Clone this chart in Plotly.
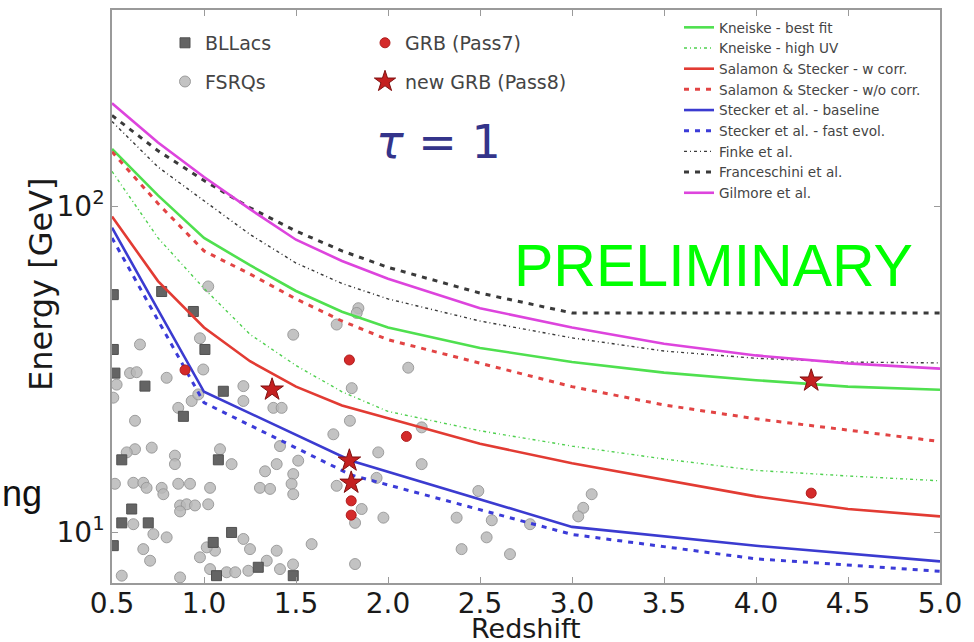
import plotly.graph_objects as go

# Optical-depth tau = 1 horizons for several EBL models
Z_GRID = [0.5, 0.75, 1.0, 1.25, 1.5, 1.75, 2.0, 2.5, 3.0, 3.5, 4.0, 4.5, 5.0]
KNEISKE_BEST = [150, 108, 80, 66, 55, 47.5, 42.5, 36.8, 33.3, 30.9, 29.3, 28.0, 27.4]
KNEISKE_UV = [128, 80, 56, 40.5, 32.5, 27.0, 23.5, 20.5, 18.4, 16.8, 15.5, 14.9, 14.4]
SALAMON_W = [93, 59, 42.5, 33.5, 28.0, 24.5, 22.4, 18.7, 16.3, 14.5, 12.9, 11.8, 11.2]
SALAMON_WO = [147, 102, 73, 62, 52, 44.5, 39, 33, 28, 24.6, 22.3, 20.6, 19.0]
FINKE = [182, 132, 104, 82, 67, 58, 52, 44.5, 39.5, 36.0, 34.2, 33.3, 33.1]
FRANCESCHINI = [190, 148, 120, 99, 84, 73, 65, 54.2, 47.1, 47.1, 47.1, 47.1, 47.1]
GILMORE = [207, 157, 123, 98, 79, 68, 60, 48.7, 42.5, 37.9, 34.9, 33.0, 31.8]

STECKER_Z = [0.5, 1.0, 1.8, 3.0, 4.0, 5.0]
STECKER_BASE = [86, 27, 16.6, 10.4, 9.1, 8.15]
STECKER_FAST = [80, 25, 15.0, 9.86, 8.3, 7.6]

# Highest-energy photons: blazars and GRBs
BLLAC_Z = [0.507, 0.770, 0.942, 0.507, 1.005, 0.516, 0.679, 1.105, 0.888, 0.553,
           1.078, 0.607, 0.553, 0.697, 1.150, 1.050, 0.507, 1.295, 1.485, 1.068]
BLLAC_E = [53.6, 54.8, 47.6, 36.4, 36.4, 30.8, 28.1, 27.1, 22.7, 16.7,
           16.7, 11.8, 10.7, 10.7, 10.0, 9.32, 9.11, 7.82, 7.37, 7.37]

FSRQ_Z = [1.023, 0.652, 0.978, 1.485, 1.721, 1.839, 1.830, 2.110, 1.803, 0.598,
          0.634, 0.797, 0.996, 1.214, 1.214, 1.377, 1.422, 0.933, 0.860, 0.969,
          0.625, 1.793, 1.703, 2.183, 1.413, 0.625, 0.716, 0.842, 0.842, 1.087,
          1.150, 1.512, 1.395, 1.332, 1.485, 1.947, 2.183, 0.516, 0.616, 0.670,
          0.688, 0.770, 0.779, 0.860, 0.924, 1.033, 1.304, 1.359, 1.476, 1.485,
          1.721, 1.857, 1.975, 2.373, 2.491, 2.564, 2.536, 2.400, 0.870, 0.906,
          0.951, 1.023, 0.870, 0.725, 0.797, 0.670, 0.707, 0.978, 1.060, 1.015,
          1.214, 1.250, 1.395, 1.585, 1.341, 1.123, 1.033, 1.241, 1.413, 1.821,
          0.553, 0.616, 1.821, 0.580, 0.525, 0.507, 1.938, 3.107, 3.061, 3.034,
          2.663, 2.772, 0.870, 1.170, 1.484]
FSRQ_E = [56.8, 37.7, 39.4, 40.4, 43.4, 48.7, 47.1, 32.0, 27.7, 30.8,
          31.0, 29.8, 31.6, 28.1, 25.3, 24.1, 24.1, 25.3, 24.1, 26.5,
          22.0, 22.0, 20.0, 21.0, 18.4, 18.0, 18.2, 17.2, 16.2, 18.0,
          16.2, 16.6, 16.2, 15.4, 15.1, 17.6, 16.2, 14.1, 14.2, 14.2,
          13.7, 13.7, 13.1, 14.1, 14.1, 13.7, 13.7, 13.6, 14.1, 13.1,
          13.9, 11.8, 11.1, 11.1, 13.4, 10.9, 9.66, 8.89, 12.1, 12.2,
          12.1, 12.2, 11.6, 9.88, 9.66, 8.89, 8.19, 8.39, 8.79, 9.0,
          9.55, 8.89, 8.79, 9.21, 8.19, 7.55, 7.72, 7.63, 7.72, 8.0,
          7.37, 10.6, 10.7, 17.6, 28.4, 25.9, 14.7, 13.1, 11.9, 11.2,
          8.58, 10.6, 7.28, 7.55, 7.98]

GRB7_Z = [0.897, 1.79, 2.10, 1.80, 1.80, 4.30]
GRB7_E = [31.5, 33.8, 19.7, 12.5, 11.3, 13.2]
GRB8_Z = [1.37, 1.79, 1.80, 4.30]
GRB8_E = [27.4, 16.6, 14.2, 29.2]

X_TICKS = [0.5, 1.0, 1.5, 2.0, 2.5, 3.0, 3.5, 4.0, 4.5, 5.0]
Y_TICKS = [10, 100]
Y_TICKTEXT = ["10<sup>1</sup>", "10<sup>2</sup>"]

FONT = "DejaVu Sans"
INK = "#1a1a1a"

# plot frame in pixels, used to place free-floating labels
PLOT_L, PLOT_R, PLOT_T, PLOT_B = 112, 940, 8, 583
def dom_x(px):
    return (px - PLOT_L) / (PLOT_R - PLOT_L)
def dom_y(py):
    return (PLOT_B - py) / (PLOT_B - PLOT_T)

fig = go.Figure()

# source scatter
fig.add_trace(go.Scatter(
    x=FSRQ_Z, y=FSRQ_E, mode="markers", name="FSRQs", legend="legend2",
    legendgroup="fsrq", legendrank=2,
    marker=dict(symbol="circle", size=11, color="rgba(185,185,185,0.85)",
                line=dict(color="rgba(150,150,150,0.9)", width=1))))
fig.add_trace(go.Scatter(
    x=BLLAC_Z, y=BLLAC_E, mode="markers", name="BLLacs", legend="legend2",
    legendgroup="bllac", legendrank=1,
    marker=dict(symbol="square", size=10, color="#646464",
                line=dict(color="#505050", width=1))))

# model curves
models = [
    ("Kneiske - best fit", Z_GRID, KNEISKE_BEST, "#4fe04f", "solid", 2.6),
    ("Kneiske - high UV", Z_GRID, KNEISKE_UV, "#4fd04f", "3px,3px,1px,3px", 1.4),
    ("Salamon & Stecker - w corr.", Z_GRID, SALAMON_W, "#e23b33", "solid", 2.6),
    ("Salamon & Stecker - w/o corr.", Z_GRID, SALAMON_WO, "#e24444", "5px,6px", 3),
    ("Stecker et al. - baseline", STECKER_Z, STECKER_BASE, "#3b3bd0", "solid", 2.6),
    ("Stecker et al. - fast evol.", STECKER_Z, STECKER_FAST, "#3b3bd8", "5px,6px", 3),
    ("Finke et al.", Z_GRID, FINKE, "#3a3a3a", "3px,3px,1px,3px", 1.4),
    ("Franceschini et al.", Z_GRID, FRANCESCHINI, "#3a3a3a", "5px,6px", 3),
    ("Gilmore et al.", Z_GRID, GILMORE, "#dd44dd", "solid", 2.6),
]
for i, (name, zz, ee, col, dash, w) in enumerate(models):
    fig.add_trace(go.Scatter(
        x=zz, y=ee, mode="lines", name=name, legend="legend",
        legendgroup=f"m{i}", line=dict(color=col, dash=dash, width=w)))

# GRBs
fig.add_trace(go.Scatter(
    x=GRB7_Z, y=GRB7_E, mode="markers", name="GRB (Pass7)", legend="legend3",
    legendgroup="grb7",
    marker=dict(symbol="circle", size=10, color="#d42a2a",
                line=dict(color="#b01c1c", width=1))))
fig.add_trace(go.Scatter(
    x=GRB8_Z, y=GRB8_E, mode="markers", name="new GRB (Pass8)", legend="legend3",
    legendgroup="grb8",
    marker=dict(symbol="star", size=17, color="#c42020",
                line=dict(color="#801010", width=1))))

axis_common = dict(showline=True, linecolor="#9a9a9a", linewidth=1.5, mirror="ticks",
                   ticks="inside", tickcolor="#9a9a9a", ticklen=6, showgrid=False,
                   zeroline=False, tickfont=dict(family=FONT, size=28, color=INK))

def label(text, px, py, size, color, family=FONT, angle=0, xanchor="center"):
    return dict(text=text, x=dom_x(px), y=dom_y(py), xref="x domain", yref="y domain",
                xanchor=xanchor, yanchor="middle", textangle=angle, showarrow=False,
                font=dict(family=family, size=size, color=color))

fig.update_layout(
    width=974, height=642,
    margin=dict(l=PLOT_L, r=974 - PLOT_R, t=PLOT_T, b=642 - PLOT_B),
    paper_bgcolor="white", plot_bgcolor="white",
    xaxis=dict(range=[0.5, 5.0], tickvals=X_TICKS, ticklabelstandoff=-5,
               ticktext=[f"{v:.1f}" for v in X_TICKS], **axis_common),
    yaxis=dict(type="log", range=[0.845, 2.602], tickvals=Y_TICKS, ticktext=Y_TICKTEXT,
               **axis_common),
    legend=dict(x=dom_x(679), y=dom_y(10), xanchor="left", yanchor="top",
                bgcolor="rgba(0,0,0,0)", font=dict(family=FONT, size=13.6, color="#444"),
                tracegroupgap=0, itemwidth=30),
    legend2=dict(x=dom_x(165), y=dom_y(22), xanchor="left", yanchor="top",
                 bgcolor="rgba(0,0,0,0)", font=dict(family=FONT, size=19, color="#444"),
                 tracegroupgap=11),
    legend3=dict(x=dom_x(365), y=dom_y(22), xanchor="left", yanchor="top",
                 bgcolor="rgba(0,0,0,0)", font=dict(family=FONT, size=19, color="#444"),
                 tracegroupgap=11),
    annotations=[
        label("Redshift", 526, 629, 27, INK),
        label("Energy [GeV]", 41, 283, 32, INK, angle=-90),
        label("<i>τ</i> = 1", 438, 140, 46, "#34348a"),
        label("PRELIMINARY", 713, 265, 59, "#00ff00", family="Liberation Sans"),
        label("ng", 0, 493, 36, "#111", family="Liberation Sans", xanchor="left"),
    ],
)

fig.write_html("out.html")
